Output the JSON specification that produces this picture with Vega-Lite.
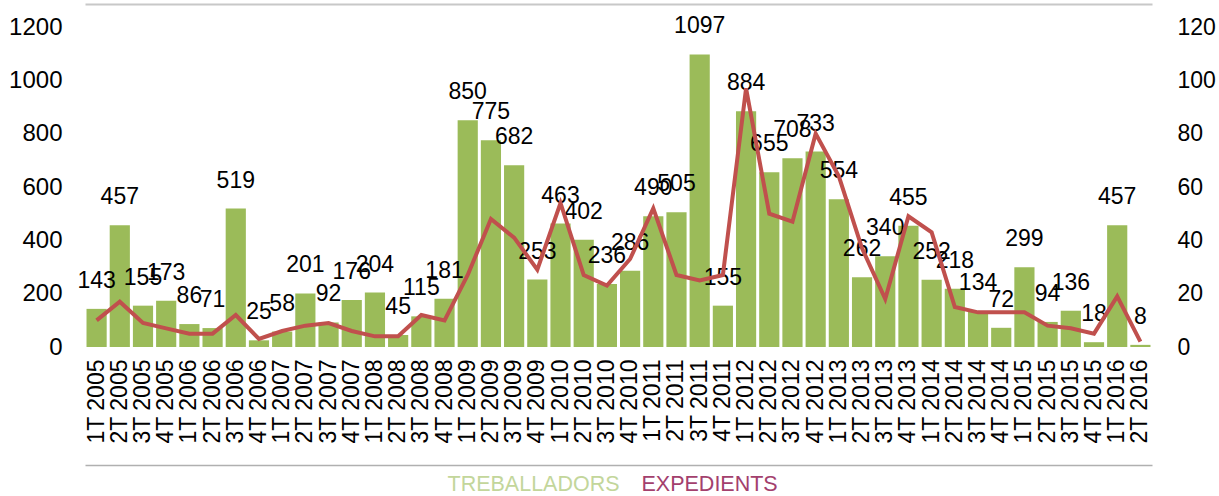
{
  "$schema": "https://vega.github.io/schema/vega-lite/v6.json",
  "width": 1067,
  "height": 320,
  "autosize": "none",
  "padding": {"left": 85, "top": 27, "right": 67, "bottom": 149},
  "config": {"view": {"stroke": null}, "font": "Liberation Sans"},
  "data": {"values": [
    {"q": "1T 2005", "treb": 143, "exp": 10},
    {"q": "2T 2005", "treb": 457, "exp": 17},
    {"q": "3T 2005", "treb": 155, "exp": 9},
    {"q": "4T 2005", "treb": 173, "exp": 7},
    {"q": "1T 2006", "treb": 86, "exp": 5},
    {"q": "2T 2006", "treb": 71, "exp": 5},
    {"q": "3T 2006", "treb": 519, "exp": 12},
    {"q": "4T 2006", "treb": 25, "exp": 3},
    {"q": "1T 2007", "treb": 58, "exp": 6},
    {"q": "2T 2007", "treb": 201, "exp": 8},
    {"q": "3T 2007", "treb": 92, "exp": 9},
    {"q": "4T 2007", "treb": 176, "exp": 6},
    {"q": "1T 2008", "treb": 204, "exp": 4},
    {"q": "2T 2008", "treb": 45, "exp": 4},
    {"q": "3T 2008", "treb": 115, "exp": 12},
    {"q": "4T 2008", "treb": 181, "exp": 10},
    {"q": "1T 2009", "treb": 850, "exp": 27},
    {"q": "2T 2009", "treb": 775, "exp": 48},
    {"q": "3T 2009", "treb": 682, "exp": 41},
    {"q": "4T 2009", "treb": 253, "exp": 29},
    {"q": "1T 2010", "treb": 463, "exp": 54},
    {"q": "2T 2010", "treb": 402, "exp": 27},
    {"q": "3T 2010", "treb": 236, "exp": 23},
    {"q": "4T 2010", "treb": 286, "exp": 33},
    {"q": "1T 2011", "treb": 490, "exp": 52},
    {"q": "2T 2011", "treb": 505, "exp": 27},
    {"q": "3T 2011", "treb": 1097, "exp": 25},
    {"q": "4T 2011", "treb": 155, "exp": 27},
    {"q": "1T 2012", "treb": 884, "exp": 97},
    {"q": "2T 2012", "treb": 655, "exp": 50},
    {"q": "3T 2012", "treb": 708, "exp": 47},
    {"q": "4T 2012", "treb": 733, "exp": 80},
    {"q": "1T 2013", "treb": 554, "exp": 64},
    {"q": "2T 2013", "treb": 262, "exp": 37},
    {"q": "3T 2013", "treb": 340, "exp": 18},
    {"q": "4T 2013", "treb": 455, "exp": 49},
    {"q": "1T 2014", "treb": 252, "exp": 43},
    {"q": "2T 2014", "treb": 218, "exp": 15},
    {"q": "3T 2014", "treb": 134, "exp": 13},
    {"q": "4T 2014", "treb": 72, "exp": 13},
    {"q": "1T 2015", "treb": 299, "exp": 13},
    {"q": "2T 2015", "treb": 94, "exp": 8},
    {"q": "3T 2015", "treb": 136, "exp": 7},
    {"q": "4T 2015", "treb": 18, "exp": 5},
    {"q": "1T 2016", "treb": 457, "exp": 19},
    {"q": "2T 2016", "treb": 8, "exp": 2}
  ]},
  "layer": [
    {
      "layer": [
        {
          "mark": {"type": "bar"},
          "encoding": {
            "x": {
              "field": "q", "type": "nominal", "sort": null,
              "scale": {"paddingInner": 0.13, "paddingOuter": 0.065},
              "axis": {"title": null, "labelAngle": -90, "labelFontSize": 23, "labelColor": "black", "labelPadding": 12, "ticks": false, "domain": false, "grid": false}
            },
            "y": {"field": "treb", "type": "quantitative", "scale": {"domain": [0, 1200]},
              "axis": {"title": null, "values": [0, 200, 400, 600, 800, 1000, 1200], "format": "d", "labelFontSize": 24, "labelColor": "black", "labelPadding": 23, "ticks": false, "domain": false, "grid": false}},
            "color": {
              "datum": "TREBALLADORS",
              "scale": {"domain": ["TREBALLADORS", "EXPEDIENTS"], "range": ["#9bbb59", "#c0504d"]},
              "legend": {
                "title": null, "orient": "none", "legendX": 341, "legendY": 447, "direction": "horizontal",
                "symbolSize": 0, "symbolOpacity": 0, "symbolStrokeWidth": 0, "labelOffset": 0, "columnPadding": -5, "padding": 0,
                "labelFontSize": 21.5, "labelLimit": 400,
                "labelColor": {"expr": "datum.value === 'TREBALLADORS' ? '#c3d69b' : '#a3406d'"}
              }
            }
          }
        },
        {
          "mark": {"type": "text", "dy": -28, "baseline": "middle", "fontSize": 23, "color": "black"},
          "encoding": {
            "x": {
              "field": "q", "type": "nominal", "sort": null,
              "axis": {"title": null, "orient": "top", "offset": 23, "labels": false, "ticks": false, "grid": false, "domain": true, "domainColor": "#c8c8c8", "domainWidth": 2}
            },
            "y": {"field": "treb", "type": "quantitative"},
            "text": {"field": "treb", "type": "quantitative"}
          }
        }
      ],
      "resolve": {"axis": {"x": "independent"}}
    },
    {
      "mark": {"type": "line", "strokeWidth": 4},
      "encoding": {
        "x": {
          "field": "q", "type": "nominal", "sort": null,
          "axis": {"title": null, "orient": "bottom", "offset": 118, "labels": false, "ticks": false, "grid": false, "domain": true, "domainColor": "#b0b0b0", "domainWidth": 1.5}
        },
        "y": {"field": "exp", "type": "quantitative", "scale": {"domain": [0, 120]},
          "axis": {"title": null, "orient": "right", "values": [0, 20, 40, 60, 80, 100, 120], "labelFontSize": 23, "labelColor": "black", "labelPadding": 25, "ticks": false, "domain": false, "grid": false}},
        "color": {"datum": "EXPEDIENTS"}
      }
    }
  ],
  "resolve": {"scale": {"y": "independent"}, "axis": {"x": "independent"}}
}
